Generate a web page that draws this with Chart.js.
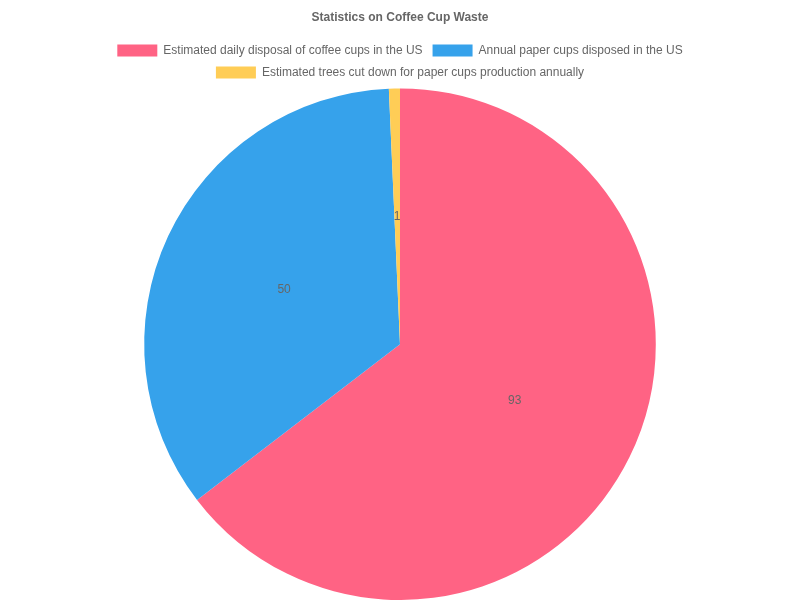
<!DOCTYPE html>
<html>
<head>
<meta charset="utf-8">
<script src="https://cdn.jsdelivr.net/npm/chart.js@4"></script>
<style>
html,body{margin:0;padding:0;background:#fff;}
#wrap{width:800px;height:600px;}
</style>
</head>
<body>
<div id="wrap"><canvas id="c"></canvas></div>
<script>
const categories = [
  "Estimated daily disposal of coffee cups in the US",
  "Annual paper cups disposed in the US",
  "Estimated trees cut down for paper cups production annually"
];
const values = [93, 50, 1];
const colors = ["rgb(255,99,132)", "rgb(54,162,235)", "rgb(255,205,86)"];

Chart.defaults.font.family = "'Liberation Sans', Arial, Helvetica, sans-serif";
Chart.defaults.color = "#666";

const labelPlugin = {
  id: "sliceLabels",
  afterDatasetsDraw(chart) {
    const ctx = chart.ctx;
    const meta = chart.getDatasetMeta(0);
    ctx.save();
    ctx.font = "12px 'Liberation Sans', Arial, sans-serif";
    ctx.fillStyle = "#666";
    ctx.textAlign = "center";
    ctx.textBaseline = "middle";
    meta.data.forEach((arc, i) => {
      const p = arc.tooltipPosition();
      ctx.fillText(String(values[i]), p.x, p.y);
    });
    ctx.restore();
  }
};

new Chart(document.getElementById("c"), {
  type: "pie",
  data: {
    labels: categories,
    datasets: [{
      data: values,
      backgroundColor: colors,
      borderWidth: 0
    }]
  },
  options: {
    responsive: true,
    maintainAspectRatio: false,
    animation: false,
    layout: { padding: 0 },
    plugins: {
      title: {
        display: true,
        text: "Statistics on Coffee Cup Waste",
        font: { size: 12, weight: "bold" },
        color: "#666",
        padding: { top: 10, bottom: 10 }
      },
      legend: {
        position: "top",
        labels: { font: { size: 12 }, color: "#666" }
      },
      tooltip: { enabled: false }
    }
  },
  plugins: [labelPlugin]
});
</script>
</body>
</html>
